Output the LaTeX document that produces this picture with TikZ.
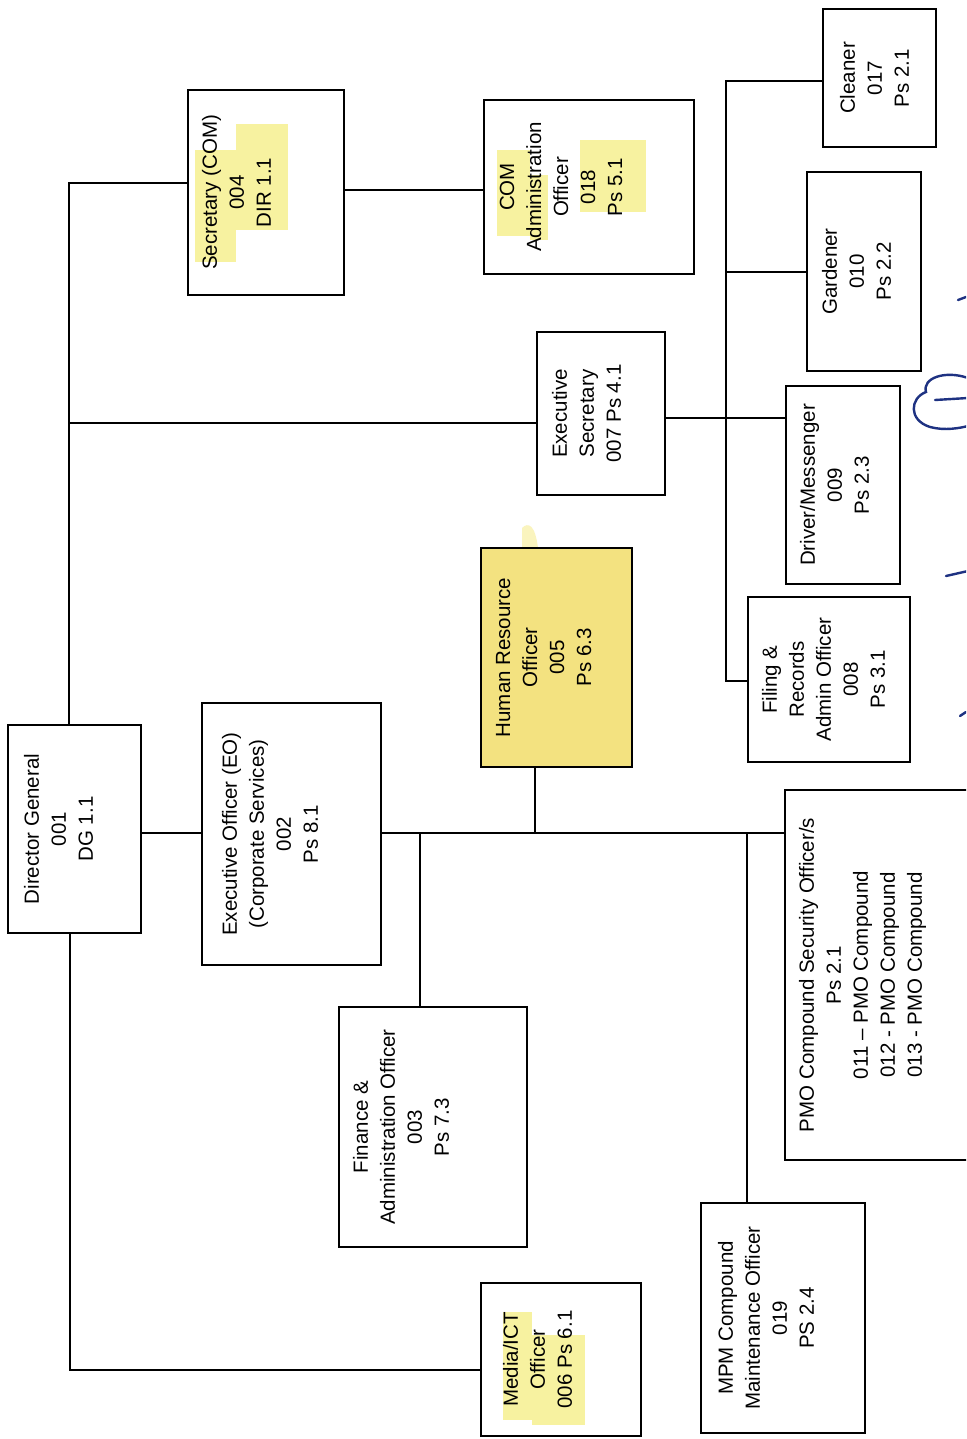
\documentclass[tikz,border=0pt]{standalone}
\usepackage{fontspec}
\setmainfont{Liberation Sans}
\definecolor{hlyellow}{RGB}{247,242,160}
\definecolor{hrfill}{RGB}{243,226,128}
\definecolor{smudge}{RGB}{250,244,190}
\definecolor{inkblue}{RGB}{30,50,130}
\newcommand\mkbox[8]{%
  \node[#8, minimum width={#4-#2}, minimum height={#5-#3}] (#1) at ({(#2+#4)/2},{(#3+#5)/2}) {};
  \node[txt] (#1-t) at ([xshift=#6pt]#1.west) {#7};}
\begin{document}
\begin{tikzpicture}[x=1pt,y=-1pt,
  box/.style={draw=black, line width=1.6pt, rectangle, inner sep=0pt},
  hrbox/.style={box, fill=hrfill},
  txt/.style={rotate=90, anchor=north, align=center, inner sep=0pt, font=\fontsize{20.5}{27}\selectfont},
  link/.style={draw=black, line width=1.5pt},
  sig/.style={draw=inkblue, line width=2.4pt, line cap=round}]
\useasboundingbox (0,0) rectangle (966,1439);
\clip (0,0) rectangle (966,1439);
\fill[white] (0,0) rectangle (966,1439);
% highlighter marks
\fill[hlyellow] (195,150) rectangle (236,262);
\fill[hlyellow] (236,124) rectangle (288,230);
\fill[hlyellow] (497,150) rectangle (530,236);
\fill[hlyellow] (530,175) rectangle (548,240);
\fill[hlyellow] (580,140) rectangle (646,212);
\fill[hlyellow] (503,1312) rectangle (532,1420);
\fill[hlyellow] (532,1335) rectangle (585,1425);
\fill[smudge] (522,528) .. controls (528,522) and (535,524) .. (538,548) -- (522,548) -- cycle;
% boxes
\mkbox{sec}{188}{90}{344}{295}{14.5}{Secretary (COM)\\004\\DIR 1.1}{box}
\mkbox{comadm}{484}{100}{694}{274}{16.5}{COM\\Administration\\Officer\\018\\Ps 5.1}{box}
\mkbox{cleaner}{823}{9}{936}{147}{17.5}{Cleaner\\017\\Ps 2.1}{box}
\mkbox{gardener}{807}{172}{921}{371}{15.5}{Gardener\\010\\Ps 2.2}{box}
\mkbox{execsec}{537}{332}{665}{495}{15.5}{Executive\\Secretary\\007 Ps 4.1}{box}
\mkbox{driver}{786}{386}{900}{584}{14.5}{Driver/Messenger\\009\\Ps 2.3}{box}
\mkbox{filing}{748}{597}{910}{762}{14.5}{Filing \&\\Records\\Admin Officer\\008\\Ps 3.1}{box}
\mkbox{hr}{481}{548}{632}{767}{15.5}{Human Resource\\Officer\\005\\Ps 6.3}{hrbox}
\mkbox{dg}{8}{725}{141}{933}{16.5}{Director General\\001\\DG 1.1}{box}
\mkbox{eo}{202}{703}{381}{965}{20.5}{Executive Officer (EO)\\(Corporate Services)\\002\\Ps 8.1}{box}
\mkbox{fin}{339}{1007}{527}{1247}{14.5}{Finance \&\\Administration Officer\\003\\Ps 7.3}{box}
\mkbox{media}{481}{1283}{641}{1436}{22.5}{Media/ICT\\Officer\\006 Ps 6.1}{box}
\mkbox{mpm}{701}{1203}{865}{1433}{17.5}{MPM Compound\\Maintenance Officer\\019\\PS 2.4}{box}
\mkbox{pmo}{785}{790}{980}{1160}{14.5}{PMO Compound Security Officer/s\\Ps 2.1\\011 – PMO Compound\\012 - PMO Compound\\013 - PMO Compound}{box}
% connectors
\coordinate (c1) at (69,183);
\draw[link] (dg.north -| c1) -- (c1) -- (c1 -| sec.west);
\coordinate (c2) at (69,423);
\draw[link] (c2) -- (c2 -| execsec.west);
\coordinate (c3) at (0,190);
\draw[link] (c3 -| sec.east) -- (c3 -| comadm.west);
\coordinate (c4) at (70,1370);
\draw[link] (dg.south -| c4) -- (c4) -- (c4 -| media.west);
\coordinate (c5) at (0,833);
\draw[link] (c5 -| dg.east) -- (c5 -| eo.west);
\draw[link] (c5 -| eo.east) -- (c5 -| pmo.west);
\coordinate (c6) at (420,833);
\draw[link] (c6) -- (c6 |- fin.north);
\coordinate (c7) at (535,833);
\draw[link] (hr.south -| c7) -- (c7);
\coordinate (c8) at (747,833);
\draw[link] (c8) -- (c8 |- mpm.north);
\coordinate (c9) at (0,418);
\draw[link] (c9 -| execsec.east) -- (c9 -| driver.west);
\coordinate (c10) at (726,81);
\coordinate (c11) at (726,681);
\coordinate (c12) at (726,272);
\draw[link] (c10 -| cleaner.west) -- (c10) -- (c11) -- (c11 -| filing.west);
\draw[link] (c12) -- (c12 -| gardener.west);
% handwritten mark
\draw[sig] (958,300) -- (966,297);
\draw[sig] (968,378) .. controls (945,370) and (922,378) .. (926,392)
  .. controls (910,398) and (908,420) .. (930,427) .. controls (945,431) and (960,428) .. (968,426);
\draw[sig] (935,400) -- (968,398);
\draw[sig] (946,576) -- (968,571);
\draw[sig] (960,716) -- (966,712);
\end{tikzpicture}
\end{document}
